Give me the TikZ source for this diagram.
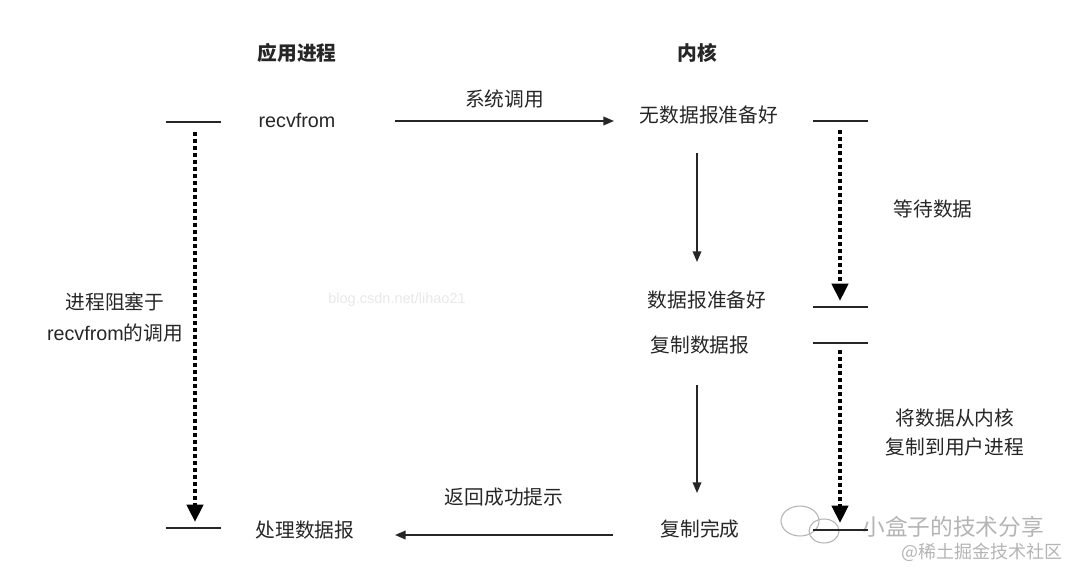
\documentclass[tikz,border=0pt]{standalone}
\usepackage{fontspec}
\setmainfont{Liberation Sans}
\newfontfamily\cjk{Noto Sans CJK SC}
\usetikzlibrary{arrows.meta, calc}
\definecolor{inkgrey}{HTML}{262626}
\definecolor{markgrey}{HTML}{E8E8E8}
\definecolor{signgrey}{HTML}{B4B4B4}

\begin{document}
\begin{tikzpicture}[
        x=0.75pt, y=-0.75pt,
        txt/.style={inner sep=0pt, text height=12pt, text depth=3pt, text=inkgrey,
            font=\fontsize{14.8}{18}\selectfont\cjk},
        head/.style={txt, font=\fontsize{14.8}{18}\selectfont\cjk\bfseries},
        latin/.style={txt, font=\fontsize{14.8}{18}\selectfont},
        block/.style={inner sep=0pt, align=center, text=inkgrey},
        tick/.style={line width=1.5pt, draw=inkgrey},
        arrow/.style={-{Triangle[length=8pt, width=6.5pt]}, line width=1.1pt, draw=inkgrey},
        wait/.style={-{Triangle[length=13pt, width=12pt]}, line width=3pt,
            dash pattern=on 3pt off 2.25pt, draw=black},
        wmark/.style={inner sep=0pt, text=signgrey},
        ]
        \useasboundingbox (0,0) rectangle (1080,580);

        % Column heads
        \node[head] (app) at (297,55) {应用进程};
        \node[head] (kern) at (697,55) {内核};

        % Application side
        \node[latin] (recv) at (297,122) {recvfrom};
        \node[txt] (proc) at (305,531) {处理数据报};
        \node[block, font=\fontsize{14.8}{23.25}\selectfont] (blocked) at (115,317.5)
        {{\cjk 进程阻塞于}\\recvfrom{\cjk 的调用}};

        % Kernel side
        \node[txt] (nodata) at (709,117) {无数据报准备好};
        \node[txt] (ready) at (707,302) {数据报准备好};
        \node[txt] (copy) at (700,347) {复制数据报};
        \node[txt] (done) at (700,530) {复制完成};

        % Phase labels
        \node[txt] (waitlbl) at (933,211) {等待数据};
        \node[block, font=\fontsize{14.8}{21.75}\selectfont\cjk] (copylbl) at (955,432.5)
        {将数据从内核\\复制到用户进程};

        % Watermarks
        \node[wmark, text=markgrey, font=\fontsize{10.9}{13}\selectfont] (blog) at (397,300)
        {blog.csdn.net/lihao21};
        \draw[signgrey, line width=0.8pt] (800,521) ellipse (19 and 15);
        \draw[signgrey, line width=0.8pt] (824,531) ellipse (15 and 12);
        \node[wmark, font=\fontsize{17}{20}\selectfont\cjk] (share) at (953,527) {小盒子的技术分享};
        \node[wmark, font=\fontsize{13.5}{16}\selectfont\cjk] (juejin) at (982,552) {@稀土掘金技术社区};

        % Time marks
        \coordinate (blk0) at (193,122);
        \coordinate (blk1) at (193,528);
        \coordinate (w0) at (840,121);
        \coordinate (w1) at (840,307);
        \coordinate (c0) at (840,343);
        \coordinate (c1) at (840,530);
        \foreach \t in {blk0,blk1,w0,w1,c0,c1}
            \draw[tick] ($(\t)+(-27.5,0)$) -- ($(\t)+(27.5,0)$);

        % Waiting spans
        \draw[wait] ($(blk0)+(2,10)$) -- ($(blk1)+(2,-6)$);
        \draw[wait] ($(w0)+(0,9)$) -- ($(w1)+(0,-6)$);
        \draw[wait] ($(c0)+(0,7)$) -- ($(c1)+(0,-7)$);

        % System call
        \draw[arrow] ($(recv.center)+(98,-1)$) --
            node[pos=0.5, txt, above=7.5pt] (syscall) {系统调用}
            ($(recv.center -| nodata.center)+(-95,-1)$);

        % Kernel steps
        \draw[arrow] ($(nodata.center -| done.center)+(-3,36)$) -- ($(ready.center -| done.center)+(-3,-40)$);
        \draw[arrow] ($(copy.center)+(-3,38)$) -- ($(done.center)+(-3,-37)$);

        % Return
        \draw[arrow] ($(done.center)+(-87,5)$) --
            node[pos=0.5, txt, above=19.5pt] (ret) {返回成功提示}
            ($(done.center -| proc.center)+(90,5)$);
    \end{tikzpicture}
\end{document}
